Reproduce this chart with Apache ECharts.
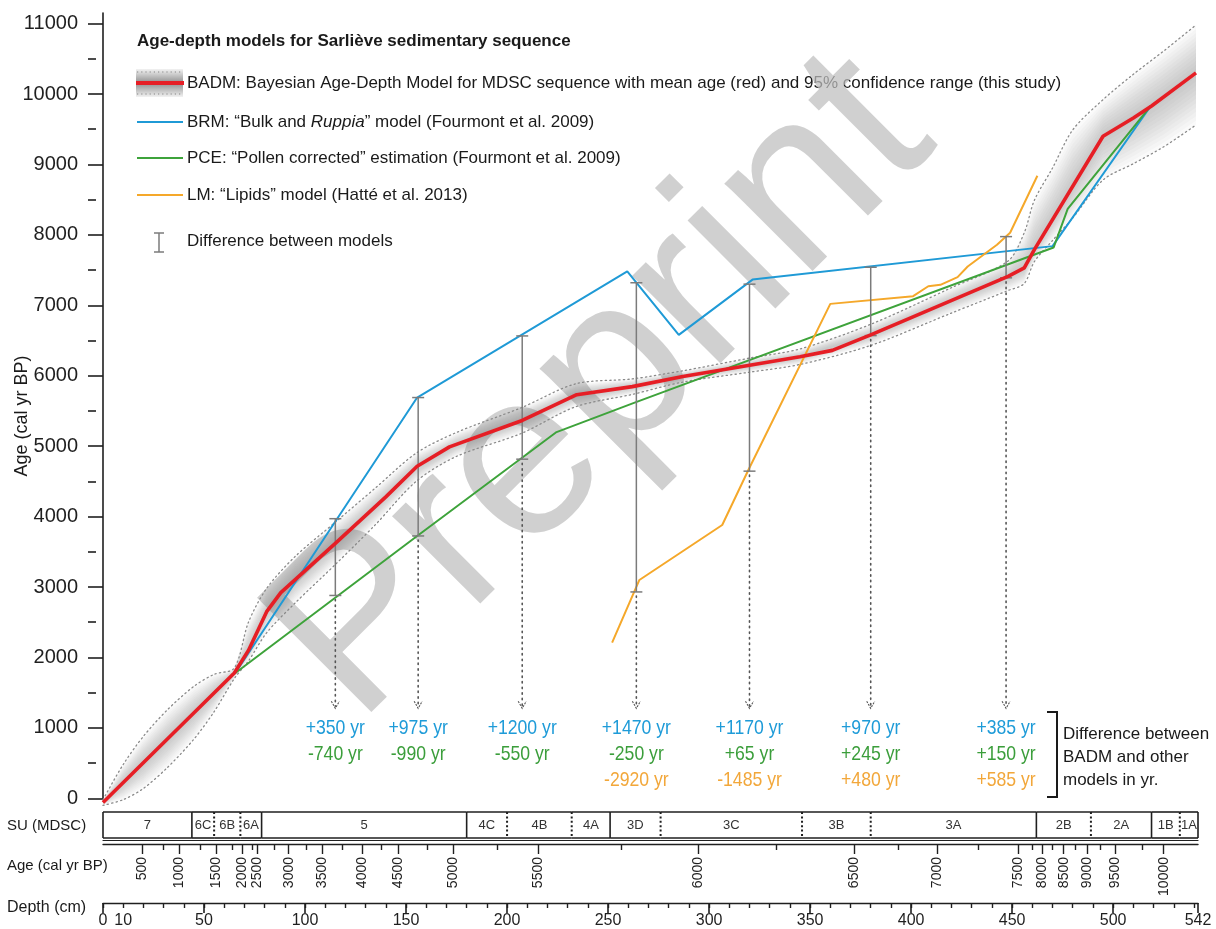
<!DOCTYPE html>
<html>
<head>
<meta charset="utf-8">
<script src="https://cdn.jsdelivr.net/npm/echarts@6/dist/echarts.min.js"></script>
<style>
  html, body { margin: 0; padding: 0; background: #fff; }
  #chart { width: 1216px; height: 929px; }
</style>
</head>
<body>
<div id="chart"></div>
<script>
// ---- Age-depth models, Sarlieve sequence (depth in cm, age in cal yr BP) ----

// BADM mean age
const badmDepth = [0, 65, 72, 81, 88, 115, 140, 155.5, 171.5, 207.5, 234.5, 262, 287, 345, 361, 380, 448, 456, 461, 495, 510, 519, 541];
const badmAge   = [-60, 1780, 2100, 2650, 2920, 3620, 4280, 4715, 4990, 5365, 5730, 5845, 5990, 6270, 6360, 6580, 7410, 7530, 7790, 9400, 9660, 9830, 10300];

// BADM 95% confidence range (lower / mean / upper)
const bandDepth = [0, 10, 20, 32, 45, 55, 65, 72, 81, 95, 115, 135, 155, 175, 207, 234, 262, 287, 320, 345, 380, 420, 448, 456, 461, 470, 480, 495, 510, 525, 541];
const bandLow   = [-100, -20, 140, 440, 840, 1230, 1700, 1950, 2350, 2770, 3320, 3890, 4500, 4855, 5180, 5560, 5735, 5910, 6050, 6160, 6430, 6890, 7210, 7310, 7620, 7920, 8240, 8780, 9010, 9250, 9560];
const bandMean  = [-60, 223, 506, 845, 1213, 1497, 1780, 2100, 2650, 3100, 3620, 4148, 4700, 5025, 5363, 5723, 5845, 5990, 6150, 6270, 6580, 7068, 7410, 7530, 7790, 8216, 8690, 9400, 9660, 9953, 10300];
const bandHigh  = [-20, 480, 880, 1260, 1590, 1760, 1850, 2500, 2980, 3430, 3920, 4410, 4900, 5195, 5545, 5885, 5955, 6070, 6250, 6380, 6730, 7250, 7630, 8030, 8490, 8950, 9490, 9920, 10280, 10610, 10980];

// BRM: "Bulk and Ruppia" model
const brmDepth = [65.5, 155.5, 259.5, 285, 321.5, 470, 518.6];
const brmAge   = [1780, 5690, 7480, 6580, 7365, 7840, 9830];

// PCE: "Pollen corrected" estimation
const pceDepth = [65.5, 155.5, 224.5, 262.5, 470.5, 477.5, 518.6];
const pceAge   = [1780, 3725, 5200, 5610, 7820, 8370, 9830];

// LM: "Lipids" model
const lmDepth = [252, 265.5, 306.5, 319.5, 360, 401, 408.5, 414.5, 423, 428, 442.5, 449, 462.5];
const lmAge   = [2210, 3100, 3880, 4665, 7020, 7130, 7270, 7290, 7400, 7550, 7860, 8030, 8840];

// Differences between BADM and the other models at selected depths
const barDepth   = [115, 156, 207.5, 264, 320, 380, 447];
const badmAtBars = [3620, 4715, 5365, 5850, 6130, 6570, 7390];
const diffBRM    = [350, 975, 1200, 1470, 1170, 970, 385];
const diffPCE    = [-740, -990, -550, -250, 65, 245, 150];
const diffLM     = [null, null, null, -2920, -1485, 480, 585];

// Sedimentary units (MDSC) and their depth limits
const unitNames  = ['7', '6C', '6B', '6A', '5', '4C', '4B', '4A', '3D', '3C', '3B', '3A', '2B', '2A', '1B', '1A'];
const unitGroup  = ['7', '6', '6', '6', '5', '4', '4', '4', '3', '3', '3', '3', '2', '2', '1', '1'];
const unitBounds = [0, 44, 55, 68, 78.5, 180, 200, 232, 251, 276, 346, 380, 462, 489, 519, 533, 542];

// Age scale along the core: age ticks and the depth where each falls
const ageTickAges   = [500, 750, 1000, 1250, 1500, 1750, 2000, 2250, 2500, 2750, 3000, 3250, 3500, 3750, 4000, 4250, 4500, 4750, 5000, 5250, 5500, 5750, 6000, 6250, 6500, 6750, 7000, 7250, 7500, 7750, 8000, 8250, 8500, 8750, 9000, 9250, 9500, 9750, 10000];
const ageTickDepths = [19.6, 30, 37.9, 48.3, 56.2, 64, 68.7, 73.8, 76.2, 85, 91.9, 100.7, 108.6, 118.4, 128.2, 137.5, 145.9, 160.6, 173.4, 195, 215.6, 256.4, 294.5, 333, 371.7, 393.6, 412.7, 433, 453, 460, 465, 469.7, 475.5, 481.2, 487, 493.6, 501, 514.2, 525];

// Depth ruler
const depthMajor  = [0, 50, 100, 150, 200, 250, 300, 350, 400, 450, 500, 542];
const depthLabels = [0, 10, 50, 100, 150, 200, 250, 300, 350, 400, 450, 500, 542];

// Age axis ticks
const ageMajorTicks = [0, 1000, 2000, 3000, 4000, 5000, 6000, 7000, 8000, 9000, 10000, 11000];
const ageMinorTicks = [500, 1500, 2500, 3500, 4500, 5500, 6500, 7500, 8500, 9500, 10500];

const COLORS = { badm: '#e61e25', brm: '#1f9ad6', pce: '#3ea33b', lm: '#f5a82a', bar: '#7b7b7b' };
const TXT = { brm: '#1e9bd8', pce: '#3b9e3b', lm: '#f2a73a' };
const FONT = "'Liberation Sans', Arial, sans-serif";

const zip = (xs, ys) => xs.map((x, i) => [x, ys[i]]);
const depthMinor = [];
for (let d = 0; d <= 540; d += 10) depthMinor.push(d);
const ageMajorDepths = ageTickDepths.filter((d, i) => ageTickAges[i] % 500 === 0);
const ageMinorDepths = ageTickDepths.filter((d, i) => ageTickAges[i] % 500 !== 0);

const chart = echarts.init(document.getElementById('chart'));

const GRID_X = { left: 103, right: 18 };
const BAND_LEVELS = 12;
const BLACK = '#1f1f1f';

const option = {
  animation: false,
  backgroundColor: '#ffffff',
  textStyle: { fontFamily: FONT },
  grid: [
    Object.assign({ top: 13, height: 785.3 }, GRID_X),   // main plot
    Object.assign({ top: 812, height: 26 }, GRID_X),     // SU strip
    Object.assign({ top: 839, height: 1 }, GRID_X),      // upper rule
    Object.assign({ top: 843, height: 1 }, GRID_X),      // age scale
    Object.assign({ top: 902, height: 1 }, GRID_X)       // depth ruler
  ],
  xAxis: [
    { gridIndex: 0, type: 'value', position: 'bottom', min: 0, max: 542, show: false },
    { gridIndex: 1, type: 'value', position: 'bottom', min: 0, max: 542, show: false },
    { gridIndex: 2, type: 'value', position: 'bottom', min: 0, max: 542,
      axisLine: { lineStyle: { color: BLACK, width: 1.2 } },
      axisTick: { show: false }, axisLabel: { show: false }, splitLine: { show: false } },
    { gridIndex: 3, type: 'value', position: 'bottom', min: 0, max: 542,
      axisLine: { lineStyle: { color: BLACK, width: 1.4 } },
      axisTick: { customValues: ageMinorDepths, length: 6, lineStyle: { color: BLACK, width: 1.4 } },
      axisLabel: { show: false }, splitLine: { show: false } },
    { gridIndex: 3, type: 'value', position: 'bottom', min: 0, max: 542,
      axisLine: { show: false },
      axisTick: { customValues: ageMajorDepths, length: 10, lineStyle: { color: BLACK, width: 1.4 } },
      axisLabel: {
        customValues: ageMajorDepths, rotate: 90, margin: 13, fontSize: 14, color: BLACK, fontFamily: FONT,
        formatter: v => {
          const i = ageTickDepths.findIndex(d => Math.abs(d - v) < 1e-6);
          return i >= 0 ? String(ageTickAges[i]) : '';
        }
      },
      splitLine: { show: false } },
    { gridIndex: 4, type: 'value', position: 'bottom', min: 0, max: 542,
      axisLine: { lineStyle: { color: BLACK, width: 1.4 } },
      axisTick: { customValues: depthMinor, length: 5, lineStyle: { color: BLACK, width: 1.4 } },
      axisLabel: { show: false }, splitLine: { show: false } },
    { gridIndex: 4, type: 'value', position: 'bottom', min: 0, max: 542,
      axisLine: { show: false },
      axisTick: { customValues: depthMajor, length: 10, lineStyle: { color: BLACK, width: 1.6 } },
      axisLabel: { customValues: depthLabels, margin: 10, fontSize: 16, color: BLACK, fontFamily: FONT,
        formatter: v => String(v) },
      splitLine: { show: false } }
  ],
  yAxis: [
    { gridIndex: 0, type: 'value', position: 'left', min: 0, max: 11150, offset: 7,
      axisLine: { show: true, lineStyle: { color: BLACK, width: 1.6 } },
      axisTick: { show: true, customValues: ageMajorTicks, length: 15, lineStyle: { color: BLACK, width: 1.6 } },
      axisLabel: { customValues: ageMajorTicks, margin: 18, fontSize: 20, color: BLACK, fontFamily: FONT,
        formatter: v => String(v) },
      splitLine: { show: false } },
    { gridIndex: 0, type: 'value', position: 'left', min: 0, max: 11150, offset: 7,
      axisLine: { show: false },
      axisTick: { show: true, customValues: ageMinorTicks, length: 8, lineStyle: { color: BLACK, width: 1.6 } },
      axisLabel: { show: false }, splitLine: { show: false } },
    { gridIndex: 1, type: 'value', min: 0, max: 1, show: false },
    { gridIndex: 2, type: 'value', min: 0, max: 1, show: false },
    { gridIndex: 3, type: 'value', min: 0, max: 1, show: false },
    { gridIndex: 4, type: 'value', min: 0, max: 1, show: false }
  ],
  series: [
    // BADM confidence shading: nested envelopes around the mean
    {
      type: 'custom', name: 'BADM 95% range', xAxisIndex: 0, yAxisIndex: 0, z: 1, silent: true,
      data: Array.from({ length: BAND_LEVELS }, (_, k) => [0, 0, k]),
      encode: { x: 0, y: 1 },
      renderItem: (params, api) => {
        const k = api.value(2);
        const f = (BAND_LEVELS - k) / BAND_LEVELS;
        const up = bandDepth.map((d, i) => api.coord([d, bandMean[i] + (bandHigh[i] - bandMean[i]) * f]));
        const lo = bandDepth.map((d, i) => api.coord([d, bandMean[i] - (bandMean[i] - bandLow[i]) * f])).reverse();
        return { type: 'polygon', shape: { points: up.concat(lo) }, style: { fill: 'rgba(80,80,80,0.033)' } };
      }
    },
    { type: 'line', name: 'BADM lower', data: zip(bandDepth, bandLow), xAxisIndex: 0, yAxisIndex: 0, z: 1,
      symbol: 'none', smooth: 0.3, clip: false, silent: true,
      lineStyle: { color: '#8a8a8a', width: 1.3, type: [1.3, 3.2], cap: 'round' } },
    { type: 'line', name: 'BADM upper', data: zip(bandDepth, bandHigh), xAxisIndex: 0, yAxisIndex: 0, z: 1,
      symbol: 'none', smooth: 0.3, clip: false, silent: true,
      lineStyle: { color: '#8a8a8a', width: 1.3, type: [1.3, 3.2], cap: 'round' } },
    { type: 'line', name: 'BRM', data: zip(brmDepth, brmAge), xAxisIndex: 0, yAxisIndex: 0, z: 3,
      symbol: 'none', lineStyle: { color: COLORS.brm, width: 2 } },
    { type: 'line', name: 'PCE', data: zip(pceDepth, pceAge), xAxisIndex: 0, yAxisIndex: 0, z: 3,
      symbol: 'none', lineStyle: { color: COLORS.pce, width: 2 } },
    { type: 'line', name: 'LM', data: zip(lmDepth, lmAge), xAxisIndex: 0, yAxisIndex: 0, z: 3,
      symbol: 'none', lineStyle: { color: COLORS.lm, width: 2 } },
    // Difference bars, leader arrows and difference values
    {
      type: 'custom', name: 'Differences', xAxisIndex: 0, yAxisIndex: 0, z: 4, silent: true, clip: false,
      data: barDepth.map((d, i) => [d, badmAtBars[i], i]),
      encode: { x: 0, y: 1 },
      renderItem: (params, api) => {
        const i = api.value(2);
        const d = barDepth[i];
        const base = badmAtBars[i];
        const diffs = [diffBRM[i], diffPCE[i], diffLM[i]].filter(v => v !== null);
        const top = api.coord([d, base + Math.max(0, ...diffs)]);
        const bot = api.coord([d, base + Math.min(0, ...diffs)]);
        const cs = params.coordSys;
        const tipY = cs.y + cs.height - 90;
        const x = top[0];
        const barStyle = { stroke: COLORS.bar, lineWidth: 1.5 };
        const children = [
          { type: 'line', shape: { x1: x, y1: top[1], x2: x, y2: bot[1] }, style: barStyle },
          { type: 'line', shape: { x1: x - 6, y1: top[1], x2: x + 6, y2: top[1] }, style: barStyle },
          { type: 'line', shape: { x1: x - 6, y1: bot[1], x2: x + 6, y2: bot[1] }, style: barStyle },
          { type: 'line', shape: { x1: x, y1: bot[1] + 4, x2: x, y2: tipY - 2 },
            style: { stroke: '#555', lineWidth: 1.6, lineDash: [1.4, 4.2], lineCap: 'round' } },
          { type: 'polyline', shape: { points: [[x - 4, tipY - 7], [x, tipY], [x + 4, tipY - 7]] },
            style: { stroke: '#555', lineWidth: 1.1, lineDash: [2, 1.2], fill: null } }
        ];
        const rows = [[diffBRM[i], TXT.brm], [diffPCE[i], TXT.pce], [diffLM[i], TXT.lm]];
        rows.forEach((r, k) => {
          if (r[0] === null) return;
          const label = (r[0] > 0 ? '+' : '') + r[0] + ' yr';
          // condensed digits: squeeze the glyphs horizontally around the anchor
          children.push({ type: 'text', x: x, y: tipY + 20 + k * 26, scaleX: 0.84, scaleY: 1,
            style: { text: label, x: 0, y: 0, fill: r[1], font: '21px ' + FONT,
              align: 'center', textAlign: 'center', verticalAlign: 'middle', textVerticalAlign: 'middle' } });
        });
        return { type: 'group', children };
      }
    },
    { type: 'line', name: 'BADM', data: zip(badmDepth, badmAge), xAxisIndex: 0, yAxisIndex: 0, z: 5,
      symbol: 'none', clip: false, lineStyle: { color: COLORS.badm, width: 3.6, join: 'round' } },
    // Sedimentary units strip
    {
      type: 'custom', name: 'SU', xAxisIndex: 1, yAxisIndex: 2, z: 3, silent: true,
      data: unitNames.map((n, i) => [unitBounds[i], unitBounds[i + 1], i]),
      encode: { x: [0, 1] },
      renderItem: (params, api) => {
        const i = api.value(2);
        const a = api.coord([api.value(0), 1]);
        const b = api.coord([api.value(1), 0]);
        const solid = { stroke: BLACK, lineWidth: 1.6 };
        const dotted = { stroke: BLACK, lineWidth: 2, lineDash: [2, 2.4] };
        const isSolid = i === 0 || unitGroup[i] !== unitGroup[i - 1];
        const children = [
          { type: 'line', shape: { x1: a[0], y1: a[1], x2: b[0], y2: a[1] }, style: solid },
          { type: 'line', shape: { x1: a[0], y1: b[1], x2: b[0], y2: b[1] }, style: solid },
          { type: 'line', shape: { x1: a[0], y1: a[1], x2: a[0], y2: b[1] }, style: isSolid ? solid : dotted },
          { type: 'text', style: { text: unitNames[i], x: (a[0] + b[0]) / 2, y: (a[1] + b[1]) / 2,
            fill: '#333', font: '13px ' + FONT, align: 'center', textAlign: 'center',
            verticalAlign: 'middle', textVerticalAlign: 'middle' } }
        ];
        if (i === unitNames.length - 1) {
          children.push({ type: 'line', shape: { x1: b[0], y1: a[1], x2: b[0], y2: b[1] }, style: solid });
        }
        return { type: 'group', children };
      }
    }
  ],
  graphic: { elements: [] }
};

// Static decorations: watermark, legend, captions
const G = option.graphic.elements;
const txt = (text, x, y, font, extra) => Object.assign({
  type: 'text', silent: true,
  style: { text, x, y, font, fill: '#1a1a1a', align: 'left', textAlign: 'left',
    verticalAlign: 'middle', textVerticalAlign: 'middle' }
}, extra || {});

G.push({ type: 'text', silent: true, x: 312, y: 680, rotation: Math.PI / 4, z: 1,
  style: { text: 'Preprint', font: '235px ' + FONT, fill: 'rgba(190,190,190,0.72)',
    align: 'left', textAlign: 'left', verticalAlign: 'middle', textVerticalAlign: 'middle' } });

G.push(txt('Age-depth models for Sarli\u00e8ve sedimentary sequence', 137, 41, 'bold 17px ' + FONT));
G.push({ type: 'rect', silent: true, z: 10, shape: { x: 136, y: 69, width: 47, height: 28 },
  style: { fill: new echarts.graphic.LinearGradient(0, 0, 0, 1, [
    { offset: 0, color: '#f2f2f2' }, { offset: 0.5, color: '#8f8f8f' }, { offset: 1, color: '#f2f2f2' }]) } });
G.push({ type: 'line', silent: true, z: 11, shape: { x1: 137, y1: 72, x2: 183, y2: 72 },
  style: { stroke: '#888', lineWidth: 1.2, lineDash: [1.2, 3] } });
G.push({ type: 'line', silent: true, z: 11, shape: { x1: 137, y1: 94, x2: 183, y2: 94 },
  style: { stroke: '#888', lineWidth: 1.2, lineDash: [1.2, 3] } });
G.push({ type: 'line', silent: true, z: 11, shape: { x1: 136, y1: 83, x2: 184, y2: 83 },
  style: { stroke: COLORS.badm, lineWidth: 4 } });
G.push(txt('BADM: Bayesian Age-Depth Model for MDSC sequence with mean age (red) and 95% confidence range (this study)', 187, 83, '17px ' + FONT));

[['brm', 122, 'BRM: \u201cBulk and {i|Ruppia}\u201d model (Fourmont et al. 2009)'],
 ['pce', 158, 'PCE: \u201cPollen corrected\u201d estimation (Fourmont et al. 2009)'],
 ['lm', 195, 'LM: \u201cLipids\u201d model (Hatt\u00e9 et al. 2013)']].forEach(([key, y, label]) => {
  G.push({ type: 'line', silent: true, shape: { x1: 137, y1: y, x2: 183, y2: y },
    style: { stroke: COLORS[key], lineWidth: 2 } });
  const t = txt(label, 187, y, '17px ' + FONT);
  t.style.rich = { i: { font: 'italic 17px ' + FONT, fill: '#1a1a1a' } };
  G.push(t);
});

G.push({ type: 'line', silent: true, shape: { x1: 159, y1: 233, x2: 159, y2: 252 }, style: { stroke: COLORS.bar, lineWidth: 1.5 } });
G.push({ type: 'line', silent: true, shape: { x1: 154, y1: 233, x2: 164, y2: 233 }, style: { stroke: COLORS.bar, lineWidth: 1.5 } });
G.push({ type: 'line', silent: true, shape: { x1: 154, y1: 252, x2: 164, y2: 252 }, style: { stroke: COLORS.bar, lineWidth: 1.5 } });
G.push(txt('Difference between models', 187, 241, '17px ' + FONT));

// Bracket and caption for the difference values
G.push({ type: 'polyline', silent: true, shape: { points: [[1047, 712], [1057, 712], [1057, 797], [1047, 797]] },
  style: { stroke: '#1a1a1a', lineWidth: 2, fill: null } });
G.push(txt('Difference between', 1063, 734, '17px ' + FONT));
G.push(txt('BADM and other', 1063, 757, '17px ' + FONT));
G.push(txt('models in yr.', 1063, 780, '17px ' + FONT));

// Axis captions
G.push({ type: 'text', silent: true, x: 22, y: 416, rotation: Math.PI / 2,
  style: { text: 'Age (cal yr BP)', font: '18px ' + FONT, fill: '#1a1a1a', align: 'center', textAlign: 'center',
    verticalAlign: 'middle', textVerticalAlign: 'middle' } });
G.push(txt('SU (MDSC)', 7, 826, '15px ' + FONT));
G.push(txt('Age (cal yr BP)', 7, 866, '15px ' + FONT));
G.push(txt('Depth (cm)', 7, 908, '16px ' + FONT));

chart.setOption(option);
</script>
</body>
</html>
